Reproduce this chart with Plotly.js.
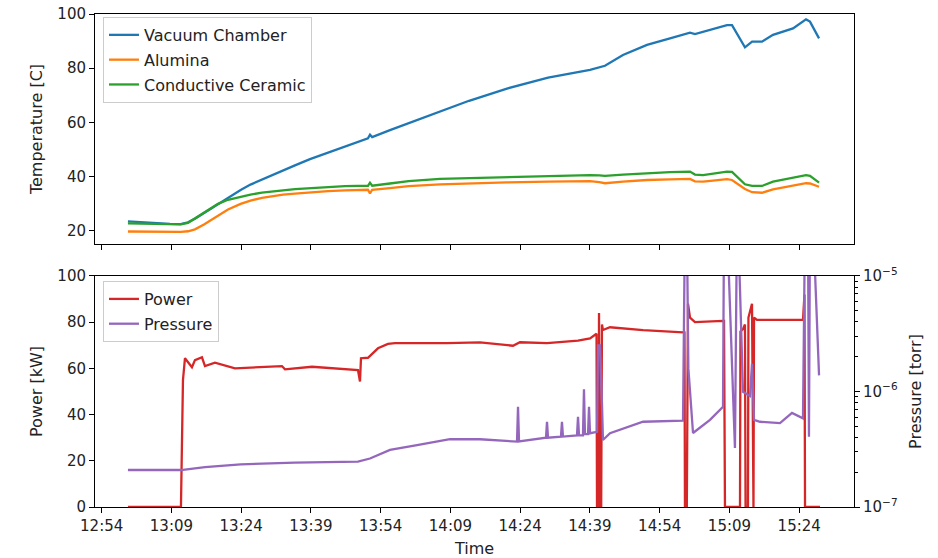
<!DOCTYPE html>
<html>
<head>
<meta charset="utf-8">
<script src="https://cdn.plot.ly/plotly-3.0.1.min.js"></script>
<style>html,body{margin:0;padding:0;background:#fff;}#chart{width:938px;height:558px;}</style>
</head>
<body>
<div id="chart"></div>
<script>
// ---------- data ----------
const DAY = '2021-01-01 ';
const tempTime = ['12:59:39','13:04:00','13:08:41','13:11:00','13:12:34','13:14:04','13:16:00','13:17:43','13:19:01','13:21:10','13:23:53','13:26:00','13:28:28','13:30:37','13:33:00','13:35:34','13:38:48','13:42:40','13:46:19','13:49:00','13:51:16','13:51:42','13:52:10','13:56:00','14:00:00','14:06:45','14:13:00','14:21:09','14:30:00','14:39:01','14:41:00','14:42:14','14:46:06','14:51:16','14:56:13','15:00:31','15:01:35','15:03:19','15:05:28','15:08:28','15:09:33','15:12:20','15:13:52','15:16:00','15:18:22','15:22:40','15:25:28','15:26:19','15:28:16'];
const vacuumChamber = [23.5,23.0,22.6,22.5,23.2,24.5,26.6,28.4,29.8,32.3,35.1,37.1,39.0,40.6,42.4,44.2,46.5,48.8,51.0,52.8,54.2,55.5,54.6,57.2,59.8,64.0,68.0,72.5,76.5,79.4,80.3,80.9,84.9,88.6,91.0,93.1,92.6,93.5,94.5,95.9,95.9,87.7,89.8,89.8,92.3,94.7,98.0,97.2,91.0];
const alumina = [19.8,19.7,19.7,19.7,19.9,20.6,22.4,24.2,25.6,27.9,30.0,31.2,32.2,32.9,33.4,33.8,34.3,34.7,35.0,35.1,35.2,33.8,35.2,35.8,36.5,37.2,37.6,37.9,38.2,38.4,38.0,37.6,38.2,38.8,39.0,39.2,38.3,38.2,38.6,39.1,38.8,35.5,34.3,34.1,35.3,36.8,37.6,37.5,36.3];
const conductiveCeramic = [22.8,22.7,22.4,22.4,23.0,24.6,26.9,28.7,30.0,31.5,32.6,33.4,34.1,34.6,35.0,35.4,35.8,36.2,36.5,36.6,36.6,37.8,36.7,37.5,38.4,39.2,39.5,39.8,40.1,40.6,40.5,40.3,40.8,41.3,41.7,41.9,40.8,40.6,41.2,41.9,41.8,37.2,36.6,36.6,38.2,39.8,40.6,40.3,37.8];

const powerTime = ['12:59:39','13:11:03','13:11:29','13:11:55','13:13:25','13:14:04','13:15:34','13:16:13','13:18:22','13:22:40','13:32:46','13:33:25','13:39:14','13:48:28','13:49:07','13:49:33','13:49:46','13:51:16','13:53:25','13:55:34','13:57:05','14:08:15','14:15:21','14:22:27','14:23:57','14:29:46','14:36:26','14:39:01','14:40:25','14:40:31','14:40:50','14:40:57','14:41:05','14:41:25','14:41:35','14:41:48','14:43:19','14:50:25','14:59:01','14:59:20','14:59:26','14:59:50','15:00:05','15:00:31','15:01:35','15:07:37','15:07:50','15:08:02','15:11:16','15:11:22','15:11:55','15:12:20','15:12:28','15:12:59','15:13:05','15:13:51','15:14:04','15:14:10','15:14:17','15:14:55','15:24:49','15:25:08','15:25:15','15:28:28'];
const power = [0,0,55,64.4,60.5,63.6,64.8,61,62.5,60,61,59.6,60.7,59.6,59.3,54.3,64.4,64.6,68.7,70.6,70.9,70.9,71.3,69.8,71.3,70.9,72,73,75,0,0,84,0,0,79,76.6,77.8,76.6,75.6,76,0,0,88,82,80,80.6,80.6,0,0,76,77,79,0,0,82,88,0,0,82,81,81,92,0,0];

const pressureTime = ['12:59:39','13:11:03','13:16:13','13:23:53','13:35:34','13:49:07','13:51:42','13:54:30','13:56:00','14:01:49','14:08:54','14:15:21','14:22:27','14:23:19','14:23:32','14:23:45','14:29:33','14:29:46','14:29:59','14:32:46','14:32:59','14:33:12','14:36:13','14:36:26','14:36:39','14:37:30','14:37:43','14:37:56','14:38:35','14:38:48','14:39:01','14:40:31','14:40:44','14:41:10','14:41:35','14:41:48','14:43:19','14:50:25','14:59:01','14:59:26','14:59:50','15:00:10','15:01:10','15:04:49','15:07:37','15:07:50','15:08:28','15:10:11','15:10:37','15:10:50','15:11:55','15:13:25','15:13:51','15:14:17','15:15:34','15:19:52','15:22:27','15:24:49','15:25:15','15:25:53','15:26:06','15:26:19','15:26:58','15:28:16'];
const pressure = [2.09e-7,2.09e-7,2.21e-7,2.34e-7,2.42e-7,2.47e-7,2.63e-7,2.91e-7,3.12e-7,3.44e-7,3.86e-7,3.86e-7,3.68e-7,3.68e-7,7.38e-7,3.70e-7,3.98e-7,5.47e-7,3.98e-7,4.07e-7,5.47e-7,4.07e-7,4.17e-7,6.05e-7,4.17e-7,4.17e-7,1.047e-6,4.27e-7,4.27e-7,7.38e-7,4.35e-7,4.47e-7,2.5e-6,2.5e-6,7.94e-7,3.80e-7,4.35e-7,5.47e-7,5.60e-7,3e-5,3e-5,1.585e-6,4.37e-7,5.68e-7,7.38e-7,3e-5,3e-5,3.24e-7,3e-5,3e-5,9.95e-7,9.12e-7,1.74e-6,5.68e-7,5.47e-7,5.32e-7,6.52e-7,5.86e-7,3e-5,3e-5,4.06e-7,3e-5,3e-5,1.38e-6];

const timeTicks = ['12:54','13:09','13:24','13:39','13:54','14:09','14:24','14:39','14:54','15:09','15:24'];
const pressureTicks = [1e-7,1e-6,1e-5];
const pressureTickText = ['10<sup>−7</sup>','10<sup>−6</sup>','10<sup>−5</sup>'];
const pressureMinor = [2e-7,3e-7,4e-7,5e-7,6e-7,7e-7,8e-7,9e-7,2e-6,3e-6,4e-6,5e-6,6e-6,7e-6,8e-6,9e-6];

// ---------- chart ----------
const d = a => a.map(t => DAY + t);
const FONT = 'DejaVu Sans, sans-serif';
const TXT = '#222';
const TICKF = {family:FONT, size:15, color:TXT};
const TITLEF = {family:FONT, size:16, color:TXT};

const traces = [
  {x:d(tempTime), y:vacuumChamber, name:'Vacuum Chamber', mode:'lines', line:{color:'#1f77b4', width:2.3}, xaxis:'x', yaxis:'y', legendgroup:'a'},
  {x:d(tempTime), y:alumina, name:'Alumina', mode:'lines', line:{color:'#ff7f0e', width:2.3}, xaxis:'x', yaxis:'y', legendgroup:'b'},
  {x:d(tempTime), y:conductiveCeramic, name:'Conductive Ceramic', mode:'lines', line:{color:'#2ca02c', width:2.3}, xaxis:'x', yaxis:'y', legendgroup:'c'},
  {x:d(powerTime), y:power, name:'Power', mode:'lines', line:{color:'#d62728', width:2.3}, xaxis:'x2', yaxis:'y2', legend:'legend2', legendgroup:'d'},
  {x:d(pressureTime), y:pressure, name:'Pressure', mode:'lines', line:{color:'#9467bd', width:2.3}, xaxis:'x2', yaxis:'y3', legend:'legend2', legendgroup:'e'}
];

const xRange = [DAY + '12:52:34', DAY + '15:35:47'];
const axCommon = {showline:true, linecolor:'#000', linewidth:1, ticks:'outside', ticklen:5, tickwidth:1, tickcolor:'#000', showgrid:false, zeroline:false, tickfont:TICKF};

const layout = {
  width:938, height:558,
  margin:{l:95, r:84, t:14, b:51},
  paper_bgcolor:'#fff', plot_bgcolor:'#fff',
  font:{family:FONT, size:15, color:TXT},
  showlegend:true,
  xaxis: Object.assign({}, axCommon, {type:'date', domain:[0,1], anchor:'y', range:xRange, matches:'x2', tickmode:'array', tickvals:d(timeTicks), showticklabels:false, mirror:true}),
  yaxis: Object.assign({}, axCommon, {domain:[0.5335,1], anchor:'x', range:[15.2,100], tickmode:'array', tickvals:[20,40,60,80,100], mirror:true, title:{text:'Temperature [C]', standoff:10, font:TITLEF}}),
  xaxis2: Object.assign({}, axCommon, {type:'date', domain:[0,1], anchor:'y2', range:xRange, tickmode:'array', tickvals:d(timeTicks), ticktext:timeTicks, mirror:true, title:{text:'Time', standoff:8, font:TITLEF}}),
  yaxis2: Object.assign({}, axCommon, {domain:[0,0.4686], anchor:'x2', range:[0,100], tickmode:'array', tickvals:[0,20,40,60,80,100], mirror:true, title:{text:'Power [kW]', standoff:10, font:TITLEF}}),
  yaxis3: Object.assign({}, axCommon, {overlaying:'y2', anchor:'x2', side:'right', type:'log', range:[-7,-5], tickmode:'array', tickvals:pressureTicks, ticktext:pressureTickText,
    minor:{tickmode:'array', tickvals:pressureMinor, ticks:'outside', ticklen:3, tickwidth:1, tickcolor:'#000', showgrid:false},
    title:{text:'Pressure [torr]', standoff:12, font:TITLEF}}),
  legend:{x:0.0105, y:0.994, xanchor:'left', yanchor:'top', bgcolor:'rgba(255,255,255,0.8)', bordercolor:'#ccc', borderwidth:1, font:TITLEF, tracegroupgap:1},
  legend2:{x:0.0105, y:0.4584, xanchor:'left', yanchor:'top', bgcolor:'rgba(255,255,255,0.8)', bordercolor:'#ccc', borderwidth:1, font:TITLEF, tracegroupgap:1}
};

Plotly.newPlot('chart', traces, layout, {staticPlot:true, displayModeBar:false});
</script>
</body>
</html>
